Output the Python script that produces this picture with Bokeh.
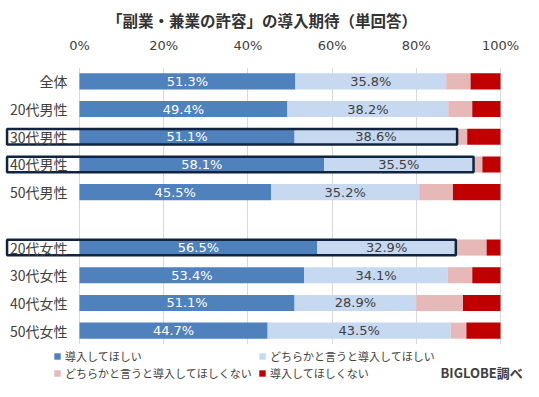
from bokeh.plotting import figure
from bokeh.layouts import column
from bokeh.models import (FactorRange, Range1d, FixedTicker, Legend, LegendItem,
                          Label, ColumnDataSource)
from bokeh.core.properties import value
from bokeh.embed import file_html
from bokeh.resources import INLINE

# ---------------- data ----------------
categories = ["全体", "20代男性", "30代男性", "40代男性", "50代男性",
              "20代女性", "30代女性", "40代女性", "50代女性"]
want = [51.3, 49.4, 51.1, 58.1, 45.5, 56.5, 53.4, 51.1, 44.7]
rather_want = [35.8, 38.2, 38.6, 35.5, 35.2, 32.9, 34.1, 28.9, 43.5]
rather_not = [5.8, 5.7, 2.4, 2.1, 8.0, 7.3, 5.8, 11.1, 3.7]
not_want = [7.1, 6.7, 7.9, 4.3, 11.3, 3.3, 6.7, 8.9, 8.1]
series_names = ["導入してほしい", "どちらかと言うと導入してほしい",
                "どちらかと言うと導入してほしくない", "導入してほしくない"]
highlighted = ["30代男性", "40代男性", "20代女性"]
tick_values = [0, 20, 40, 60, 80, 100]
tick_labels = ["0%", "20%", "40%", "60%", "80%", "100%"]
title_text = "「副業・兼業の許容」の導入期待（単回答）"
source_note = "BIGLOBE調べ"

# ---------------- style ----------------
colors = ["#4f81bd", "#c6d9f1", "#e6b9b8", "#c00000"]
text_color = "#404040"
jp_font = value("Noto Sans CJK JP")
num_font = value("DejaVu Sans")
BAR_H = 0.58
BOX_LEFT = -17.2   # left edge of highlight frames (label area)

gap = " "
male = categories[:5]
female = categories[5:]
factors = list(reversed(male + [gap] + female))

p = figure(width=523, height=344, output_backend="svg", toolbar_location=None,
           y_range=FactorRange(factors=factors, range_padding=0),
           x_range=Range1d(-18.76, 105.47),
           x_axis_location="above", y_axis_location=None,
           min_border_left=0, min_border_right=0,
           min_border_top=67, min_border_bottom=0,
           background_fill_color="white", border_fill_color="white")
p.outline_line_color = None

# title
p.title.text = title_text
p.title.align = "center"
p.title.text_font = "Noto Sans CJK JP"
p.title.text_font_size = "15.5px"
p.title.text_font_style = "bold"
p.title.text_color = "#333333"
p.title.offset = 0
p.title.standoff = 7

# axis
ax = p.xaxis[0]
ax.ticker = FixedTicker(ticks=tick_values)
ax.major_label_overrides = {v: l for v, l in zip(tick_values, tick_labels)}
ax.axis_line_color = None
ax.major_tick_line_color = None
ax.minor_tick_line_color = None
ax.major_label_text_font = "DejaVu Sans"
ax.major_label_text_font_size = "13px"
ax.major_label_text_color = text_color
ax.major_label_standoff = 9

p.xgrid.ticker = FixedTicker(ticks=tick_values)
p.xgrid.grid_line_color = "#d9d9d9"
p.ygrid.visible = False

# bars
src = ColumnDataSource(dict(cat=categories, want=want, rather_want=rather_want,
                            rather_not=rather_not, not_want=not_want))
stackers = ["want", "rather_want", "rather_not", "not_want"]
p.hbar_stack(stackers, y="cat", height=BAR_H, color=colors,
             line_color=None, source=src)

# highlight frames
cum2 = [a + b for a, b in zip(want, rather_want)]
hl_right = [cum2[categories.index(c)] for c in highlighted]
p.hbar(y=highlighted, left=BOX_LEFT, right=hl_right, height=0.56,
       fill_color=None, line_color="#10233f", line_width=2.5)

# data labels
lab_src = ColumnDataSource(dict(
    cat=categories,
    x1=[a / 2 for a in want],
    t1=[f"{a:.1f}%" for a in want],
    x2=[a + b / 2 for a, b in zip(want, rather_want)],
    t2=[f"{b:.1f}%" for b in rather_want],
    x0=[0] * len(categories),
))
p.text(x="x1", y="cat", text="t1", source=lab_src, text_align="center",
       text_baseline="middle", text_font=num_font, text_font_size="13px",
       text_color="white")
p.text(x="x2", y="cat", text="t2", source=lab_src, text_align="center",
       text_baseline="middle", text_font=num_font, text_font_size="13px",
       text_color=text_color)
# category labels
p.text(x="x0", y="cat", text="cat", source=lab_src, x_offset=-12,
       text_align="right", text_baseline="middle", text_font=jp_font,
       text_font_size="14px", text_color=text_color)

# ---------------- legend strip ----------------
p2 = figure(width=523, height=37, output_backend="svg", toolbar_location=None,
            x_axis_location=None, y_axis_location=None,
            x_range=Range1d(0, 1), y_range=Range1d(0, 1),
            min_border=0, min_border_left=0, min_border_right=0,
            min_border_top=0, min_border_bottom=0,
            background_fill_color="white", border_fill_color="white")
p2.outline_line_color = None
p2.grid.visible = False
if "frame_align" in p2.properties():
    p2.frame_align = False
# zero-size swatch renderers that carry each series' colour for the legend
proxy_src = ColumnDataSource(dict(y=[0], l=[0], r=[0]))
proxies = [p2.hbar(y="y", left="l", right="r", height=0, color=c,
                   line_color=None, source=proxy_src)
           for c in colors]
legend = Legend(items=[LegendItem(label=n, renderers=[r])
                       for n, r in zip(series_names, proxies)],
                location=(53, 0), orientation="horizontal", ncols=2,
                glyph_width=8, glyph_height=8, label_standoff=4,
                label_height=13, label_width=192, spacing=1, padding=0, margin=0,
                border_line_color=None, background_fill_alpha=0,
                label_text_font="Noto Sans CJK JP", label_text_font_size="11px",
                label_text_color=text_color)
p2.add_layout(legend, "center")

note = Label(x=440, y=9, x_units="screen", y_units="screen", text=source_note,
             text_font="Noto Sans CJK JP", text_font_size="13px",
             text_font_style="bold", text_color=text_color,
             text_baseline="middle")
p2.add_layout(note)

layout = column(p, p2, spacing=0)
open("out.html", "w").write(file_html(layout, INLINE))
